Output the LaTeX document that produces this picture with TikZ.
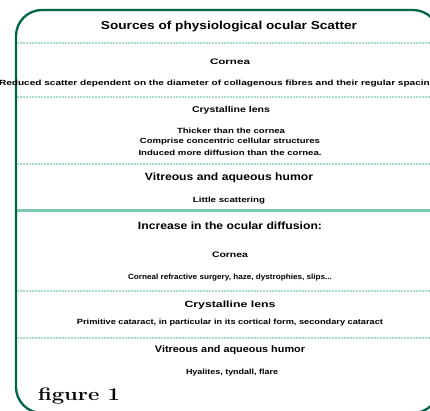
\documentclass[tikz,border=0pt]{standalone}
\usepackage{fontspec}
\usepackage{graphicx}
\newfontfamily\arialf{Liberation Sans}
\definecolor{framegreen}{HTML}{00654A}
\definecolor{dotteal}{HTML}{A6DACB}
\definecolor{solidteal}{HTML}{7FC9B3}
\newcommand\fitt[3]{\resizebox{#1pt}{\height}{\fontsize{#2}{#2}\selectfont\arialf\bfseries #3}}
\begin{document}
\begin{tikzpicture}[x=1pt,y=-1pt,
  lbl/.style={inner sep=0pt, outer sep=0pt, anchor=center},
  sepdot/.style={dotteal, line width=1.2pt, dash pattern=on 1.5pt off 1.5pt},
  sepsolid/.style={solidteal, line width=3pt},
  frame/.style={framegreen, line width=2.3pt, rounded corners=26pt}]
\useasboundingbox (0,0) rectangle (430,410);
\fill[white] (0,0) rectangle (430,410);
% frame
\draw[frame] (16,10) rectangle (439,413);
% separators
\coordinate (d1l) at (17,43);  \coordinate (d1r) at (430,43);
\coordinate (d2l) at (17,97);  \coordinate (d2r) at (430,97);
\coordinate (d3l) at (17,164); \coordinate (d3r) at (430,164);
\coordinate (s1l) at (17,210); \coordinate (s1r) at (430,210);
\coordinate (d4l) at (17,291); \coordinate (d4r) at (430,291);
\coordinate (d5l) at (17,338); \coordinate (d5r) at (430,338);
\draw[sepdot] (d1l) -- (d1r);
\draw[sepdot] (d2l) -- (d2r);
\draw[sepdot] (d3l) -- (d3r);
\draw[sepsolid] (s1l) -- (s1r);
\draw[sepdot] (d4l) -- (d4r);
\draw[sepdot] (d5l) -- (d5r);
% texts
\node[lbl] (title) at (229,27) {\fitt{256}{11.5}{Sources of physiological ocular Scatter}};
\node[lbl] (cornea1) at (230,62) {\fitt{40}{8}{Cornea}};
\node[lbl, anchor=west] (reduced) at (-1,84) {\fitt{437}{7.5}{Reduced scatter dependent on the diameter of collagenous fibres and their regular spacing}};
\node[lbl] (crys1) at (231,110) {\fitt{78}{8.5}{Crystalline lens}};
\node[lbl] (thick) at (231,131) {\fitt{108}{7.5}{Thicker than the cornea}};
\node[lbl] (compr) at (230,142) {\fitt{180}{7.5}{Comprise concentric cellular structures}};
\node[lbl] (induc) at (230,153) {\fitt{183}{7.5}{Induced more diffusion than the cornea.}};
\node[lbl] (vit1) at (229,178) {\fitt{168}{10.5}{Vitreous and aqueous humor}};
\node[lbl] (little) at (229,201) {\fitt{72}{7.5}{Little scattering}};
\node[lbl] (incr) at (230,226) {\fitt{184}{10.5}{Increase in the ocular diffusion:}};
\node[lbl] (cornea2) at (230,255) {\fitt{36}{8}{Cornea}};
\node[lbl] (corneal) at (230,278) {\fitt{204}{7.5}{Corneal refractive surgery, haze, dystrophies, slips...}};
\node[lbl] (crys2) at (230,305) {\fitt{91}{9}{Crystalline lens}};
\node[lbl] (prim) at (230,323) {\fitt{306}{7.5}{Primitive cataract, in particular in its cortical form, secondary cataract}};
\node[lbl] (vit2) at (230,350) {\fitt{150}{9.5}{Vitreous and aqueous humor}};
\node[lbl] (hyal) at (232,373) {\fitt{92}{7.5}{Hyalites, tyndall, flare}};
\node[lbl, anchor=base west] (fig) at (38,400) {\resizebox{82pt}{\height}{\fontsize{18}{18}\selectfont\bfseries figure 1}};
\end{tikzpicture}
\end{document}
